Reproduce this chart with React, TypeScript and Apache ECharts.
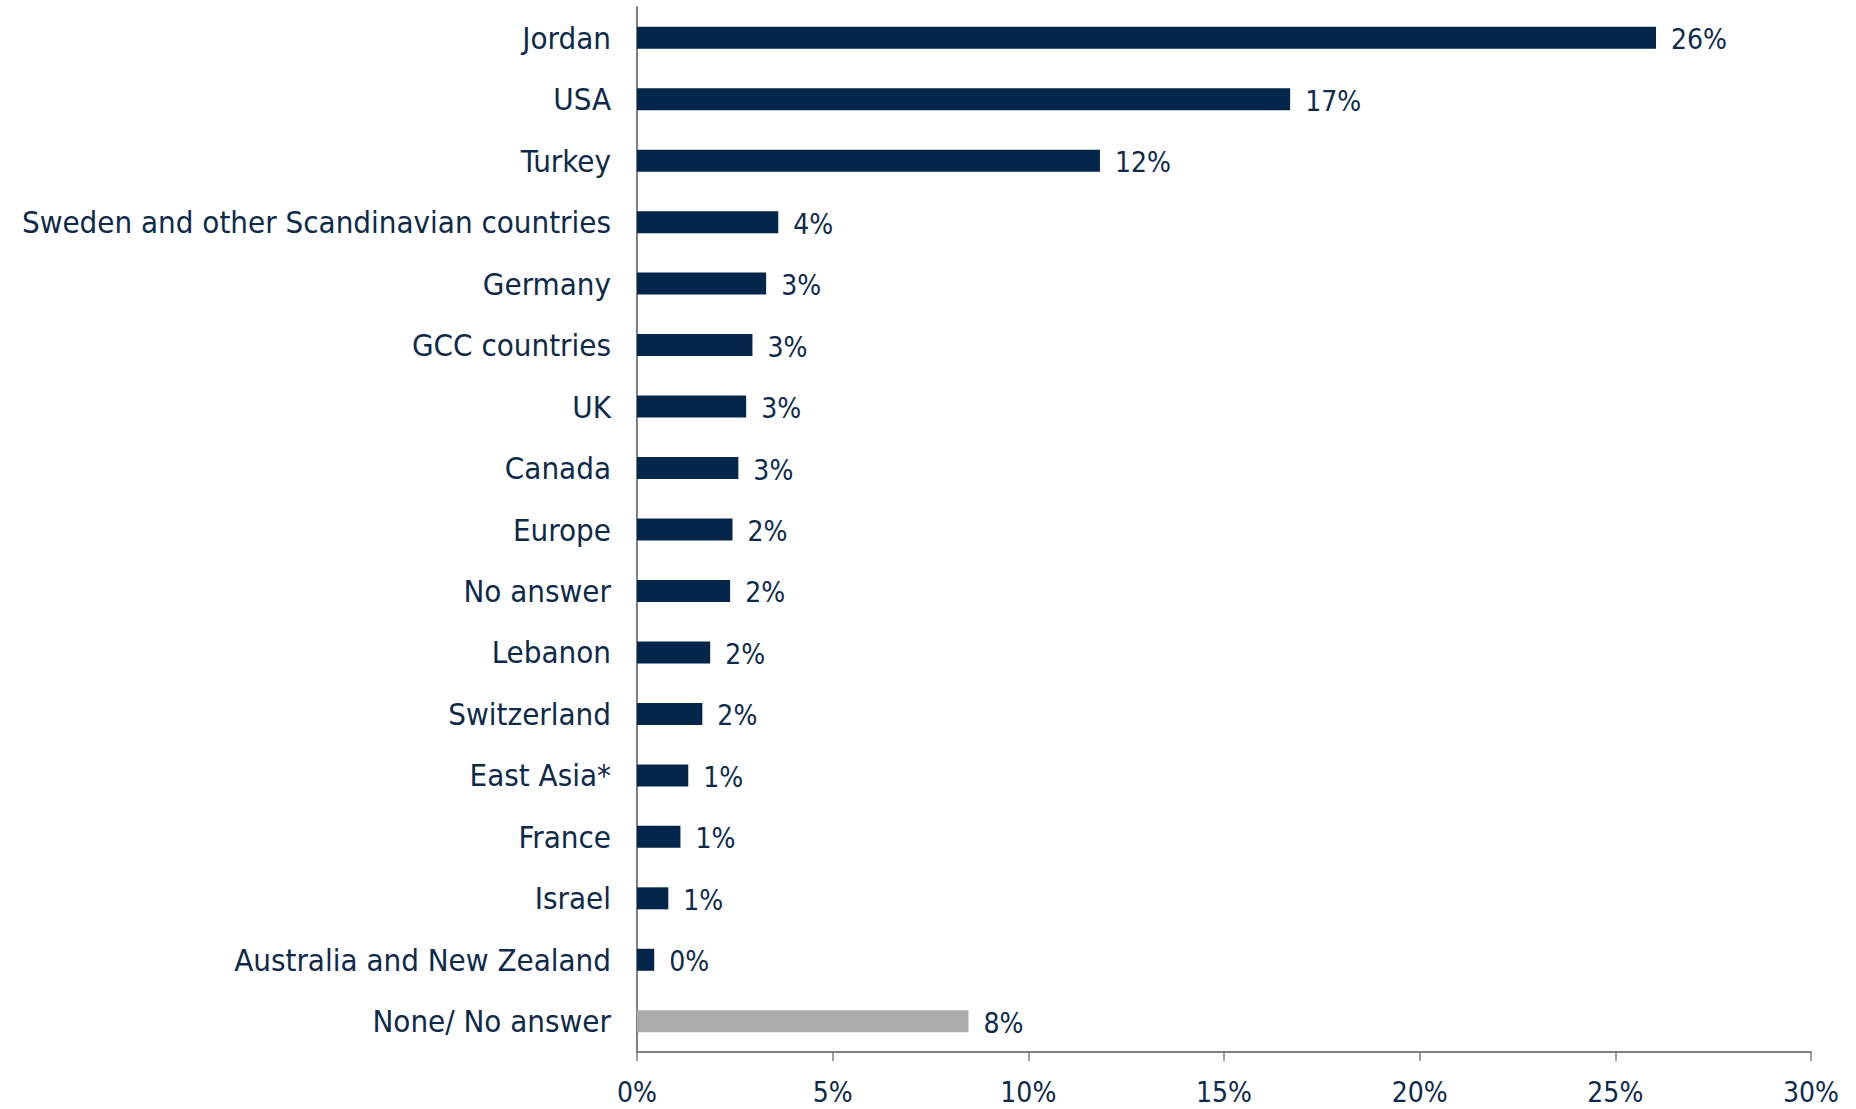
import React, { useEffect, useRef } from "react";
import * as echarts from "echarts";

const categories = [
  "Jordan",
  "USA",
  "Turkey",
  "Sweden and other Scandinavian countries",
  "Germany",
  "GCC countries",
  "UK",
  "Canada",
  "Europe",
  "No answer",
  "Lebanon",
  "Switzerland",
  "East Asia*",
  "France",
  "Israel",
  "Australia and New Zealand",
  "None/ No answer",
];

const values = [26.04, 16.69, 11.83, 3.61, 3.3, 2.95, 2.79, 2.59, 2.44, 2.38, 1.87, 1.67, 1.31, 1.11, 0.8, 0.44, 8.47];

const valueLabels = ["26%", "17%", "12%", "4%", "3%", "3%", "3%", "3%", "2%", "2%", "2%", "2%", "1%", "1%", "1%", "0%", "8%"];

const greyCategories = ["None/ No answer"];

const xTicks = [0, 5, 10, 15, 20, 25, 30];

const NAVY = "#03264A";
const TEXT = "#0E2A4B";
const GREY = "#ABABAB";
const AXIS = "#7F7F7F";
const FONT = "'DejaVu Sans Condensed', 'DejaVu Sans', sans-serif";

export default function App() {
  const ref = useRef<HTMLDivElement>(null);

  useEffect(() => {
    if (!ref.current) return;
    const chart = echarts.init(ref.current, null, { renderer: "svg" });
    chart.setOption({
      animation: false,
      backgroundColor: "#ffffff",
      grid: { left: 637, right: 45, top: 7, bottom: 57, containLabel: false },
      xAxis: {
        type: "value",
        min: xTicks[0],
        max: xTicks[xTicks.length - 1],
        interval: 5,
        splitLine: { show: false },
        axisLine: { show: true, lineStyle: { color: AXIS, width: 2 } },
        axisTick: { show: true, length: 9, lineStyle: { color: AXIS, width: 1.5 } },
        axisLabel: {
          margin: 26,
          color: TEXT,
          fontSize: 28,
          fontFamily: FONT,
          formatter: (v: number) => `${v}%`,
        },
      },
      yAxis: {
        type: "category",
        data: categories,
        inverse: true,
        axisLine: { show: true, lineStyle: { color: AXIS, width: 2 } },
        axisTick: { show: false },
        splitLine: { show: false },
        axisLabel: {
          margin: 26,
          color: TEXT,
          fontSize: 31,
          fontFamily: FONT,
        },
      },
      series: [
        {
          type: "bar",
          barWidth: 22,
          data: values.map((v, i) => ({
            value: v,
            itemStyle: { color: greyCategories.includes(categories[i]) ? GREY : NAVY },
          })),
          label: {
            show: true,
            position: "right",
            distance: 15,
            color: TEXT,
            fontSize: 28,
            fontFamily: FONT,
            offset: [0, 2],
            formatter: (p: any) => valueLabels[p.dataIndex],
          },
        },
      ],
    });
    return () => chart.dispose();
  }, []);

  return (
    <div
      ref={ref}
      style={{ position: "fixed", left: 0, top: 0, width: 1856, height: 1109, background: "#fff" }}
    />
  );
}
